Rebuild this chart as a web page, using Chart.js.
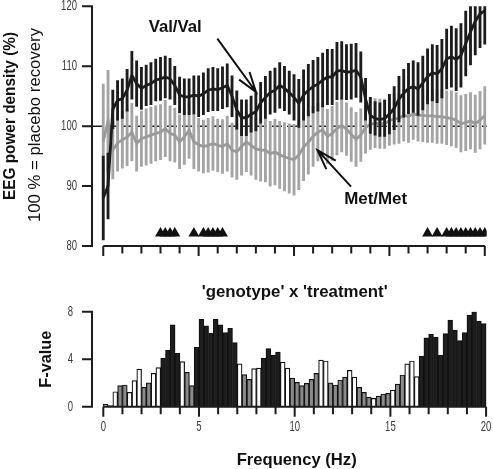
<!DOCTYPE html>
<html>
<head>
<meta charset="utf-8">
<script src="https://cdn.jsdelivr.net/npm/chart.js@4.4.0/dist/chart.umd.min.js"></script>
<style>
  body { margin: 0; background: #fff; }
  canvas { position: absolute; left: 0; top: 0; }
</style>
</head>
<body>
<canvas id="eegChart" width="493" height="469"></canvas>
<canvas id="fChart" width="493" height="469"></canvas>
<script>
// frequency bins (Hz)
const freqHz = [0,0.25,0.5,0.75,1,1.25,1.5,1.75,2,2.25,2.5,2.75,3,3.25,3.5,3.75,4,4.25,4.5,4.75,
  5,5.25,5.5,5.75,6,6.25,6.5,6.75,7,7.25,7.5,7.75,8,8.25,8.5,8.75,9,9.25,9.5,9.75,
  10,10.25,10.5,10.75,11,11.25,11.5,11.75,12,12.25,12.5,12.75,13,13.25,13.5,13.75,14,14.25,14.5,14.75,
  15,15.25,15.5,15.75,16,16.25,16.5,16.75,17,17.25,17.5,17.75,18,18.25,18.5,18.75,19,19.25,19.5,19.75,20];

// EEG power density, % of placebo recovery
const valVal = [88,90,102.8,104.3,104.6,106,108.5,107.1,106.3,106.8,
  107.1,107.7,107.9,108.2,107.9,106.8,105.2,104.9,104.9,105.2,
  105,105.4,106,106.2,106.1,106.4,106.8,105,102.7,101.4,
  101.4,102,102.4,103.9,104.8,105.6,106,106.8,106.3,105.6,
  104.8,103.8,105.2,106,106.6,107,107.7,108.2,108.2,109.2,
  109.3,109,109.1,109.3,108.2,104.5,101.8,101.3,101.1,101.3,
  102,103,104.5,105.5,106.3,106.6,106.2,107.2,108.3,108.9,
  108.7,109.6,111.2,111.6,111.1,111.8,113.8,115.7,117.5,118.7,119.3];
const valSE = [7,5.5,3.2,3.3,3.3,3.5,4,3.8,3.5,3.4,
  3.5,3.5,3.6,3.5,3.4,3.2,3,3,3,3.2,
  3.4,3.5,3.6,3.6,3.5,3.5,3.6,3.4,3.2,3,
  3,3,3.2,3.4,3.5,3.6,3.7,3.8,3.7,3.6,
  3.8,4,4.2,4.3,4.4,4.5,4.5,4.6,4.6,4.8,
  4.8,4.6,4.6,4.5,4.2,3.5,3,2.8,2.8,3,
  3.3,3.6,3.8,4,4.2,4.3,4.4,4.5,4.6,4.7,
  4.8,4.9,5,5.1,5.2,5.3,5.4,5.5,5.6,5.6,5.6];
const metMet = [97.5,100.8,96,97.2,97.7,98.2,99,97.1,97.9,98.2,
  98.5,98.8,99,99.6,98.8,98.5,97.4,98.2,99.3,97.4,
  96.9,96.6,96.8,97.1,96.8,96.6,97.1,96,95.7,96.6,
  97.4,96.8,96.2,96,96,95.4,95.7,95.2,94.9,94.6,
  94.4,95.2,96.5,97.3,98.3,99,99.4,98.3,98.8,99.6,
  100.1,99.5,98.6,97.8,98.5,99.8,100.3,100.5,100.4,100.4,
  100.9,101.2,101.3,101.8,101.6,102.1,101.8,101.8,101.7,101.7,
  101.6,101.6,101.4,101.3,101,100.4,100.6,100.9,100.4,101,101.8];
const metSE = [9.5,8.5,4.8,4.7,4.7,4.8,4.8,4.6,4.6,4.7,
  4.7,4.6,4.6,4.7,4.6,4.5,4.5,4.6,4.7,4.5,
  4.4,4.4,4.5,4.5,4.4,4.5,4.6,4.5,4.6,4.8,
  5,5,5.1,5.2,5.3,5.4,5.5,5.6,5.7,5.8,
  5.9,5.8,5.6,5.3,5,4.8,4.6,4.5,4.5,4.4,
  4.4,4.4,4.5,4.5,4.4,4.3,4.2,4.1,4.1,4.1,
  4.1,4.2,4.2,4.3,4.3,4.3,4.3,4.4,4.4,4.4,
  4.5,4.5,4.5,4.6,4.6,4.7,4.7,4.7,4.8,4.8,4.8];

// frequencies marked with a triangle
const markedHz = [3,3.25,3.5,3.75, 4.75,5.25,5.5,5.75,6,6.25,
  17,17.5,18,18.25,18.5,18.75,19,19.25,19.5,19.75,20];
const markerLevel = 82.1;

// 'genotype' x 'treatment' F-values, one per 0.25 Hz bin
const fValue = [0.2,0.1,1.26,1.77,1.83,1.2,2.2,3.17,1.63,2.0,
  2.8,3.3,4.1,4.75,6.9,4.5,3.8,2.9,1.77,5.0,
  7.35,6.8,6.2,7.35,6.9,6.25,6.6,5.4,3.6,2.7,
  2.3,3.2,3.25,4.1,4.9,4.35,4.6,3.75,3.25,2.4,
  2.05,1.77,1.97,2.3,2.8,3.93,3.85,2.0,1.83,2.25,
  2.5,3.06,2.5,1.63,1.2,0.8,0.7,0.9,1.07,1.12,
  1.4,1.9,2.67,3.6,3.85,2.53,4.27,5.8,6.1,5.87,
  4.33,6.15,7.3,6.46,5.56,6.24,7.72,8.0,7.2,7.0];
// bar shading: b = black, g = grey, w = white
const fClass = ('wwwggwwwgg' + 'wwbbbbwggb' + 'bbbbbbbbwg' + 'gwwbbbbwwg' +
  'gggggwwggg' + 'gwwgggwggg' + 'wggwwwbbbb' + 'bbbbbbbbbb').split('');

const powerTicks = [80, 90, 100, 110, 120];
const fTicks = [0, 4, 8];
const hzLabels = [0, 5, 10, 15, 20];

const INK = '#1c1c1c';
const GREY_LINE = '#9a9a9a';
const GREY_BAR = '#a4a4a4';
const barFill = { b: '#1e1e1e', g: '#8a8a8a', w: '#ffffff' };

const binCenters = freqHz.slice(0, 80).map(f => f + 0.125);

// text helpers
function fitText(ctx, text, x, y, width, font, angle) {
  ctx.save();
  ctx.font = font;
  ctx.translate(x, y);
  if (angle) ctx.rotate(angle);
  const w = ctx.measureText(text).width;
  ctx.scale(width / w, 1);
  ctx.textAlign = 'center';
  ctx.textBaseline = 'middle';
  ctx.fillStyle = '#111';
  ctx.fillText(text, 0, 0);
  ctx.restore();
}

function narrowText(ctx, text, x, y, align) {
  ctx.save();
  ctx.font = '14px "Liberation Sans", Arial, sans-serif';
  ctx.translate(x, y);
  ctx.scale(0.68, 1);
  ctx.textAlign = align;
  ctx.textBaseline = 'middle';
  ctx.fillStyle = '#3a3a3a';
  ctx.fillText(text, 0, 0);
  ctx.restore();
}

function arrow(ctx, x1, y1, x2, y2) {
  const ang = Math.atan2(y1 - y2, x1 - x2);
  const len = 21, spread = 0.31;
  ctx.beginPath();
  ctx.moveTo(x1, y1);
  ctx.lineTo(x2, y2);
  ctx.moveTo(x2 + len * Math.cos(ang - spread), y2 + len * Math.sin(ang - spread));
  ctx.lineTo(x2, y2);
  ctx.lineTo(x2 + len * Math.cos(ang + spread), y2 + len * Math.sin(ang + spread));
  ctx.stroke();
}

function drawHzAxis(ctx, x, base) {
  ctx.beginPath();
  ctx.moveTo(x.getPixelForValue(0), base);
  ctx.lineTo(x.getPixelForValue(20), base);
  for (let hz = 0; hz <= 20; hz++) {
    const px = x.getPixelForValue(hz);
    ctx.moveTo(px, base);
    ctx.lineTo(px, base + (hz % 5 === 0 ? 10 : 7.5));
  }
  ctx.stroke();
}

const xScale = { type: 'linear', min: -0.59, max: 20.1, offset: false, display: false };

// upper panel: EEG power density
const eegPlugin = {
  id: 'eegDecor',
  beforeDatasetsDraw(chart) {
    const { ctx, chartArea, scales: { y } } = chart;
    const py = y.getPixelForValue(100);
    ctx.save();
    ctx.strokeStyle = INK;
    ctx.lineWidth = 1.5;
    ctx.setLineDash([10, 5]);
    ctx.beginPath();
    ctx.moveTo(chartArea.left, py);
    ctx.lineTo(chartArea.right, py);
    ctx.stroke();
    ctx.restore();
  },
  afterDraw(chart) {
    const { ctx, chartArea, scales: { x, y } } = chart;
    ctx.save();
    ctx.strokeStyle = INK;
    ctx.lineWidth = 2;
    const ax = chartArea.left;
    ctx.beginPath();
    ctx.moveTo(ax, y.getPixelForValue(120) - 1);
    ctx.lineTo(ax, y.getPixelForValue(80) + 1);
    powerTicks.forEach(v => {
      ctx.moveTo(ax - 10, y.getPixelForValue(v));
      ctx.lineTo(ax, y.getPixelForValue(v));
    });
    ctx.stroke();
    powerTicks.forEach(v => narrowText(ctx, String(v), ax - 15, y.getPixelForValue(v), 'right'));
    drawHzAxis(ctx, x, y.getPixelForValue(80));

    fitText(ctx, 'EEG power density (%)', 10, 116, 168, 'bold 17px "Liberation Sans", Arial', -Math.PI / 2);
    fitText(ctx, '100 % = placebo recovery', 36, 125, 194, '16px "Liberation Sans", Arial', -Math.PI / 2);

    fitText(ctx, 'Val/Val', x.getPixelForValue(3.77), y.getPixelForValue(116.5), 53, 'bold 17px "Liberation Sans", Arial');
    fitText(ctx, 'Met/Met', x.getPixelForValue(14.28), y.getPixelForValue(87.75), 63, 'bold 17px "Liberation Sans", Arial');

    ctx.lineWidth = 2;
    ctx.strokeStyle = '#111';
    arrow(ctx, x.getPixelForValue(5.98), y.getPixelForValue(114.6), x.getPixelForValue(8.01), y.getPixelForValue(105.7));
    arrow(ctx, x.getPixelForValue(12.99), y.getPixelForValue(89.9), x.getPixelForValue(11.23), y.getPixelForValue(96.0));
    ctx.restore();
  }
};

new Chart(document.getElementById('eegChart'), {
  type: 'line',
  data: {
    datasets: [
      {
        label: 'significance',
        data: markedHz.map(f => ({ x: f, y: markerLevel })),
        showLine: false,
        pointStyle: 'triangle',
        pointRadius: 6.3,
        pointBackgroundColor: '#111',
        pointBorderWidth: 0,
        order: 0
      },
      {
        label: 'Val/Val',
        data: freqHz.map((f, i) => ({ x: f, y: valVal[i] })),
        borderColor: INK,
        borderWidth: 2.8,
        pointRadius: 0,
        tension: 0,
        order: 1
      },
      {
        type: 'bar',
        label: 'Val/Val SEM',
        data: freqHz.map((f, i) => ({ x: f, y: [valVal[i] - valSE[i], valVal[i] + valSE[i]] })),
        backgroundColor: INK,
        barThickness: 2.2,
        grouped: false,
        clip: 0,
        order: 2
      },
      {
        label: 'Met/Met',
        data: freqHz.map((f, i) => ({ x: f, y: metMet[i] })),
        borderColor: GREY_LINE,
        borderWidth: 2.8,
        pointRadius: 0,
        tension: 0,
        order: 3
      },
      {
        type: 'bar',
        label: 'Met/Met SEM',
        data: freqHz.map((f, i) => ({ x: f, y: [metMet[i] - metSE[i], metMet[i] + metSE[i]] })),
        backgroundColor: GREY_BAR,
        barThickness: 2.2,
        grouped: false,
        clip: 0,
        order: 4
      }
    ]
  },
  options: {
    responsive: false,
    animation: false,
    events: [],
    layout: { padding: { left: 92, right: 5, top: 6, bottom: 223 } },
    scales: {
      x: xScale,
      y: { type: 'linear', min: 80, max: 120, display: false }
    },
    plugins: { legend: { display: false }, tooltip: { enabled: false } }
  },
  plugins: [eegPlugin]
});

// lower panel: F-values
const fPlugin = {
  id: 'fDecor',
  afterDraw(chart) {
    const { ctx, chartArea, scales: { x, y } } = chart;
    ctx.save();
    ctx.strokeStyle = INK;
    ctx.lineWidth = 2;
    const ax = chartArea.left;
    ctx.beginPath();
    ctx.moveTo(ax, y.getPixelForValue(8) - 1);
    ctx.lineTo(ax, y.getPixelForValue(0) + 1);
    fTicks.forEach(v => {
      ctx.moveTo(ax - 10, y.getPixelForValue(v));
      ctx.lineTo(ax, y.getPixelForValue(v));
    });
    ctx.stroke();
    fTicks.forEach(v => narrowText(ctx, String(v), ax - 19, y.getPixelForValue(v), 'right'));
    const base = y.getPixelForValue(0);
    drawHzAxis(ctx, x, base);
    hzLabels.forEach(v => narrowText(ctx, String(v), x.getPixelForValue(v), base + 20, 'center'));

    fitText(ctx, "'genotype' x 'treatment'", x.getPixelForValue(10), chartArea.top - 19, 186, 'bold 16px "Liberation Sans", Arial');
    fitText(ctx, 'F-value', 46, (chartArea.top + chartArea.bottom) / 2, 57, 'bold 17px "Liberation Sans", Arial', -Math.PI / 2);
    fitText(ctx, 'Frequency (Hz)', x.getPixelForValue(10) + 2, 460, 120, 'bold 17px "Liberation Sans", Arial');
    ctx.restore();
  }
};

new Chart(document.getElementById('fChart'), {
  type: 'bar',
  data: {
    datasets: [{
      label: 'F-value',
      data: binCenters.map((f, i) => ({ x: f, y: fValue[i] })),
      backgroundColor: fClass.map(c => barFill[c]),
      borderColor: '#111',
      borderWidth: 1.2,
      barPercentage: 1,
      categoryPercentage: 1
    }]
  },
  options: {
    responsive: false,
    animation: false,
    events: [],
    layout: { padding: { left: 92, right: 5, top: 311.7, bottom: 62.3 } },
    scales: {
      x: xScale,
      y: { type: 'linear', min: 0, max: 8, display: false }
    },
    plugins: { legend: { display: false }, tooltip: { enabled: false } }
  },
  plugins: [fPlugin]
});
</script>
</body>
</html>
